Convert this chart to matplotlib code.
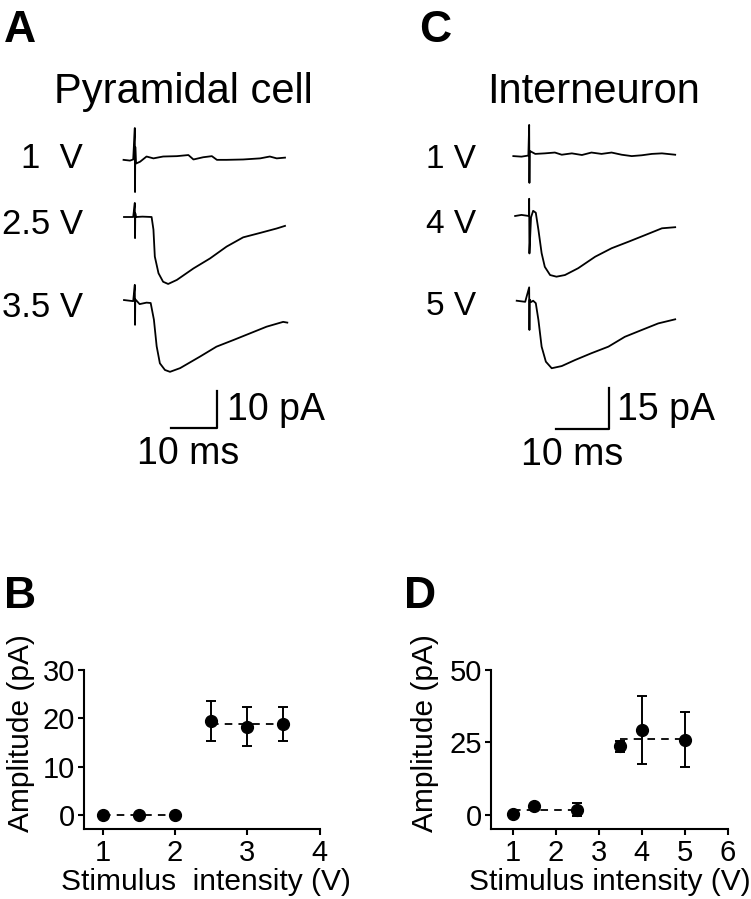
import numpy as np
import matplotlib
matplotlib.use('Agg')
import matplotlib.pyplot as plt

plt.rcParams['font.family'] = ['Liberation Sans', 'DejaVu Sans']

W, H = 751, 899

# ───────────────── panel A: pyramidal cell traces (ms, pA re baseline) ─────
pyr_1v_t = [-0.1, 1.3, 2.0, 2.35, 2.4, 2.45, 2.6, 3.5, 4.9, 6.4, 8.5, 11.5, 14.0,
            15.1, 17.2, 19.1, 20.2, 22.3, 25.9, 29.6, 31.7, 33.2, 35.0]
pyr_1v_i = [-0.5, -0.7, -0.4, 8.1, -9.2, 3.0, -1.5, -1.0, 0.4, -0.1, 0.4, 0.5, 0.8,
            -0.4, 0.2, 0.5, -0.5, -0.5, -0.4, -0.1, 0.4, -0.1, 0.1]

pyr_25v_t = [0.0, 2.0, 2.35, 2.4, 2.45, 2.6, 4.0, 6.0, 6.4, 6.7, 7.5, 8.5, 9.6,
             11.5, 15.1, 18.7, 22.3, 25.9, 29.6, 33.2, 35.0]
pyr_25v_i = [0.0, 0.0, 3.8, -5.7, 1.0, 0.0, 0.1, 0.0, -3.4, -10.7, -15.2, -17.5,
             -18.1, -17.0, -13.9, -11.2, -8.0, -5.5, -4.3, -3.1, -2.4]

pyr_35v_t = [0.0, 2.0, 2.35, 2.4, 2.45, 3.4, 4.9, 5.8, 6.5, 7.1, 7.8, 8.9, 10.0,
             12.2, 16.5, 20.1, 23.8, 27.4, 31.0, 34.6, 35.5]
pyr_35v_i = [0.8, 0.5, 4.9, -5.9, 1.0, -0.3, 0.1, 0.0, -4.5, -11.7, -16.3, -18.1,
             -18.6, -17.6, -14.5, -11.8, -10.0, -8.2, -6.4, -5.1, -5.3]

# ───────────────── panel C: interneuron traces ────────────────────────────
int_1v_t = [0.06, 1.6, 2.9, 3.05, 3.1, 3.15, 4.2, 6.0, 7.9, 9.2, 11.1, 13.0, 14.8,
            16.7, 18.6, 20.5, 22.4, 24.3, 26.2, 28.1, 30.6]
int_1v_i = [-0.4, -0.6, -0.2, 11.0, -10.2, 1.5, 0.4, 0.6, 0.9, 0.1, 0.6, 0.0, 0.9,
            0.4, 0.9, 0.1, -0.4, -0.1, 0.4, 0.6, 0.1]

int_4v_t = [0.4, 1.6, 3.0, 3.05, 3.1, 3.4, 3.8, 4.3, 4.8, 5.4, 6.0, 7.0, 8.2,
            9.8, 12.3, 15.5, 18.6, 21.8, 24.9, 28.1, 30.6]
int_4v_i = [0.0, 0.4, 0.0, 6.3, -13.7, -0.5, 1.9, 1.2, -5.1, -13.6, -18.6, -21.6,
            -22.2, -21.6, -19.1, -14.9, -11.8, -9.4, -7.0, -4.5, -4.1]

int_5v_t = [0.7, 2.3, 3.05, 3.1, 3.15, 3.4, 3.8, 4.3, 4.8, 5.4, 6.2, 7.3, 9.2,
            11.7, 14.8, 18.0, 21.1, 24.3, 27.4, 30.6]
int_5v_i = [0.1, -0.3, 5.0, -10.6, 0.5, -0.4, 0.1, -0.8, -7.0, -16.7, -22.2, -24.6,
            -23.8, -21.6, -19.1, -16.7, -13.1, -10.6, -8.2, -6.7]

# ───────────────── panels B / D: amplitude vs stimulus ────────────────────
pyr_volts = [1.0, 1.5, 2.0, 2.5, 3.0, 3.5]
pyr_amp   = [0.0, 0.0, 0.1, 19.5, 18.3, 18.8]
pyr_err   = [0.0, 0.0, 0.0, 4.1, 4.1, 3.5]
pyr_groups = [(0, 3), (3, 6)]

int_volts = [1.0, 1.5, 2.5, 3.5, 4.0, 5.0]
int_amp   = [0.4, 3.2, 1.8, 23.7, 29.3, 26.0]
int_err   = [0.0, 0.0, 2.2, 1.9, 11.7, 9.5]
int_groups = [(0, 3), (3, 6)]


def fx(px): return px / W
def fy(py): return 1 - py / H


def trace_axes(left, right, top, bottom, t0_px, px_ms, px_pa):
    ax = fig.add_axes([fx(left), fy(bottom), (right - left) / W, (bottom - top) / H])
    ax.set_xlim((left - t0_px) / px_ms, (right - t0_px) / px_ms)
    ax.set_ylim(0, (bottom - top) / px_pa)
    ax.axis('off')
    return ax


def baseline(py, bottom, px_pa):
    return (bottom - py) / px_pa


fig = plt.figure(figsize=(W / 100, H / 100), dpi=100)
kw = dict(c='black', lw=1.3)

# Panel A
pxms_a, pxpa_a = 4.6, 3.7
axA = trace_axes(100, 360, 110, 480, 124, pxms_a, pxpa_a)
for t, i, py in ((pyr_1v_t, pyr_1v_i, 158), (pyr_25v_t, pyr_25v_i, 217),
                 (pyr_35v_t, pyr_35v_i, 303)):
    axA.plot(t, baseline(py, 480, pxpa_a) + np.array(i), **kw)
sb_y = baseline(428, 480, pxpa_a)
axA.plot([10.2, 20.2, 20.2], [sb_y, sb_y, sb_y + 10], c='black', lw=1.6)

# Panel C
pxms_c, pxpa_c = 5.3, 41 / 15
axC = trace_axes(490, 750, 110, 480, 513, pxms_c, pxpa_c)
for t, i, py in ((int_1v_t, int_1v_i, 155), (int_4v_t, int_4v_i, 216),
                 (int_5v_t, int_5v_i, 301)):
    axC.plot(t, baseline(py, 480, pxpa_c) + np.array(i), **kw)
sb_y = baseline(429, 480, pxpa_c)
axC.plot([8.1, 18.1, 18.1], [sb_y, sb_y, sb_y + 15], c='black', lw=1.6)

# texts, top half
fig.text(fx(4), fy(42), 'A', fontsize=32, fontweight='bold', va='baseline')
fig.text(fx(419), fy(42), 'C', fontsize=32, fontweight='bold', va='baseline')
fig.text(fx(183), fy(103), 'Pyramidal cell', fontsize=30, ha='center', va='baseline')
fig.text(fx(594), fy(103), 'Interneuron', fontsize=30, ha='center', va='baseline')
for s, py in (('1  V', 168), ('2.5 V', 234), ('3.5 V', 317)):
    fig.text(fx(83), fy(py), s, fontsize=25, ha='right', va='baseline')
for s, py in (('1 V', 168), ('4 V', 233), ('5 V', 315)):
    fig.text(fx(476), fy(py), s, fontsize=24, ha='right', va='baseline')
fig.text(fx(227), fy(420), '10 pA', fontsize=27, va='baseline')
fig.text(fx(137), fy(464), '10 ms', fontsize=27, va='baseline')
fig.text(fx(617), fy(420), '15 pA', fontsize=27, va='baseline')
fig.text(fx(521), fy(465), '10 ms', fontsize=27, va='baseline')


def amp_axes(left, right, top, bottom, xlim, ylim, xticks, yticks,
             volts, amp, err, groups):
    ax = fig.add_axes([fx(left), fy(bottom), (right - left) / W, (bottom - top) / H])
    ax.set_xlim(*xlim); ax.set_ylim(*ylim)
    for a, b in groups:
        m = np.mean(amp[a:b])
        ax.plot([volts[a], volts[b - 1]], [m, m], c='black', lw=1.3,
                ls=(0, (4.2, 3.4)))
    ax.errorbar(volts, amp, yerr=err, fmt='o', c='black', ms=8.5, elinewidth=1.4,
                capsize=3.5, capthick=1.4)
    for s in ('top', 'right'):
        ax.spines[s].set_visible(False)
    for s in ('left', 'bottom'):
        ax.spines[s].set_linewidth(1.5)
    ax.set_xticks(xticks); ax.set_yticks(yticks)
    ax.tick_params(width=1.5, length=4.5, labelsize=21, pad=2)
    ax.tick_params(axis='x', pad=2.5)
    return ax


amp_axes(84, 319.5, 670, 829, (0.74, 4.0), (-2.9, 30.0), [1, 2, 3, 4],
         [0, 10, 20, 30], pyr_volts, pyr_amp, pyr_err, pyr_groups)
amp_axes(491, 728, 670, 829, (0.5, 6.0), (-4.9, 50.0), [1, 2, 3, 4, 5, 6],
         [0, 25, 50], int_volts, int_amp, int_err, int_groups)

fig.text(fx(4), fy(608), 'B', fontsize=32, fontweight='bold', va='baseline')
fig.text(fx(404), fy(608), 'D', fontsize=32, fontweight='bold', va='baseline')
for px in (21, 425):
    fig.text(fx(px), fy(733), 'Amplitude (pA)', fontsize=21.5, rotation=90,
             ha='center', va='center')
fig.text(fx(206), fy(890), 'Stimulus  intensity (V)', fontsize=21.5,
         ha='center', va='baseline')
fig.text(fx(610), fy(890), 'Stimulus intensity (V)', fontsize=21.5,
         ha='center', va='baseline')

fig.savefig('out.png', dpi=100)
